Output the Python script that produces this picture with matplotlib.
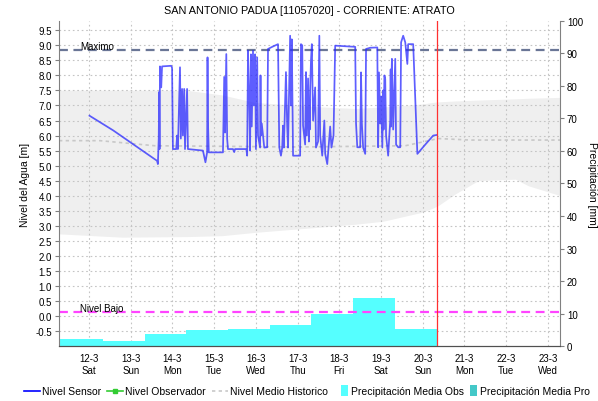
import matplotlib
matplotlib.use('Agg')
import matplotlib.pyplot as plt
from matplotlib.lines import Line2D
from matplotlib.patches import Patch, Rectangle
from matplotlib.legend_handler import HandlerPatch

plt.rcParams['font.family'] = ['Liberation Sans', 'DejaVu Sans']

# time axis in days of March (12.0 = 12-3 00:00)
day_ticks = [12, 13, 14, 15, 16, 17, 18, 19, 20, 21, 22, 23]
day_names = ['Sat', 'Sun', 'Mon', 'Tue', 'Wed', 'Thu', 'Fri', 'Sat', 'Sun', 'Mon', 'Tue', 'Wed']

# Nivel Sensor: (day, level m)
sensor_pts = [
    (12.01, 6.66), (12.58, 6.17), (13.63, 5.16), (13.65, 5.05), (13.67, 5.90),
    (13.68, 7.45), (13.69, 5.55), (13.70, 8.30), (13.73, 7.60), (13.75, 8.30),
    (13.97, 8.32), (13.99, 8.25), (14.01, 5.55), (14.09, 5.55), (14.11, 6.00),
    (14.13, 5.55), (14.18, 8.27), (14.20, 5.90), (14.23, 7.55), (14.25, 6.00),
    (14.28, 7.55), (14.30, 5.55), (14.35, 7.55), (14.37, 5.55), (14.73, 5.50),
    (14.79, 5.11), (14.83, 5.44), (14.84, 8.60), (14.85, 6.50), (14.87, 5.44),
    (15.21, 5.44), (15.24, 7.95), (15.26, 6.10), (15.29, 8.71), (15.31, 5.90),
    (15.33, 5.55), (15.45, 5.55), (15.48, 5.45), (15.50, 5.55), (15.77, 5.55),
    (15.79, 5.33), (15.81, 8.82), (15.84, 7.20), (15.86, 5.50), (15.88, 8.70),
    (15.90, 6.30), (15.93, 8.82), (15.95, 7.00), (15.98, 8.70), (16.00, 5.55),
    (16.03, 8.60), (16.05, 6.00), (16.10, 5.60), (16.11, 8.00), (16.12, 6.00),
    (16.14, 6.40), (16.20, 5.60), (16.27, 5.61), (16.29, 8.88), (16.39, 8.95),
    (16.53, 9.04), (16.56, 5.61), (16.60, 5.33), (16.63, 5.60), (16.65, 6.33),
    (16.67, 5.60), (16.72, 8.11), (16.75, 6.30), (16.77, 5.60), (16.82, 9.32),
    (16.84, 7.00), (16.86, 9.20), (16.89, 5.33), (17.06, 5.33), (17.08, 9.04),
    (17.11, 9.00), (17.13, 6.33), (17.18, 5.70), (17.20, 8.11), (17.22, 6.00),
    (17.25, 7.90), (17.27, 5.80), (17.28, 7.20), (17.29, 6.20), (17.30, 7.50),
    (17.32, 8.50), (17.34, 9.04), (17.37, 6.50), (17.42, 7.60), (17.44, 5.60),
    (17.49, 5.80), (17.52, 9.32), (17.54, 6.00), (17.59, 5.33), (17.64, 6.50),
    (17.66, 5.40), (17.71, 5.05), (17.74, 5.60), (17.78, 6.30), (17.81, 5.60),
    (17.86, 6.00), (17.90, 8.99), (18.14, 8.97), (18.38, 8.95), (18.40, 6.40),
    (18.43, 5.61), (18.50, 5.61), (18.52, 8.10), (18.54, 6.40), (18.57, 5.60),
    (18.62, 5.39), (18.64, 8.88), (18.74, 8.92), (18.91, 8.93), (18.93, 5.61),
    (18.95, 8.10), (18.98, 6.40), (19.00, 7.30), (19.03, 5.60), (19.05, 7.50),
    (19.06, 6.20), (19.08, 8.00), (19.10, 7.88), (19.12, 6.00), (19.17, 5.33),
    (19.22, 6.50), (19.23, 8.20), (19.24, 6.30), (19.25, 7.90), (19.26, 8.55),
    (19.29, 6.20), (19.34, 8.55), (19.36, 5.70), (19.41, 5.61), (19.46, 5.61),
    (19.48, 9.10), (19.53, 9.32), (19.58, 9.10), (19.63, 8.38), (19.65, 9.04),
    (19.77, 9.04), (19.87, 5.39), (20.06, 5.70), (20.25, 6.00), (20.34, 6.02),
]

# historical range band and mean [m]
band_t = [11.28, 12.79, 14.37, 15.19, 15.98, 17.59, 18.38, 19.05, 19.99, 20.23,
          20.37, 20.78, 21.33, 22.22, 22.53, 23.30]
band_hi = [7.51, 7.51, 7.50, 7.35, 7.10, 6.95, 6.90, 6.95, 7.05, 7.10,
           7.12, 7.15, 7.18, 7.22, 7.24, 7.27]
band_lo = [2.73, 2.62, 2.64, 2.67, 2.78, 2.96, 3.05, 3.15, 3.45, 3.58,
           3.67, 4.06, 4.50, 4.55, 4.33, 4.00]
mean_t = [11.28, 12.26, 13.58, 17.06, 19.58, 20.37, 21.14, 23.30]
mean_lvl = [5.83, 5.83, 5.66, 5.62, 5.66, 5.90, 5.85, 5.85]

# precipitation media obs [mm], steps between edges
precip_edges = [11.28, 12.33, 13.33, 14.33, 15.33, 16.33, 17.33, 18.33, 19.33, 20.33]
precip_mm = [2.1, 1.4, 3.7, 4.9, 5.2, 6.5, 10.0, 14.8, 5.2]

nivel_maximo = 8.85
nivel_bajo = 0.13
now_t = 20.34

sensor_t = [p[0] for p in sensor_pts]
sensor_lvl = [p[1] for p in sensor_pts]

fig = plt.figure(figsize=(5.98, 4.02), dpi=100)
ax = fig.add_axes([0.0987, 0.1368, 0.8378, 0.8085])
ax2 = ax.twinx()

ax.set_xlim(11.28, 23.29)
ax.set_ylim(-1.0, 9.81)
ax2.set_ylim(0, 100)

ax.set_axisbelow(True)
ax.grid(True, color='#c4c4c4', linestyle=(0, (1.5, 2.5)), linewidth=0.8)

ax.fill_between(band_t, band_lo, band_hi, color='#efefef', linewidth=0, zorder=0.3)

# bars belong to right axis scale
ps = precip_mm + [precip_mm[-1]]
ax.fill_between(precip_edges, 0, ps, step='post', color='#55ffff', linewidth=0,
                transform=ax2.transData, zorder=1)

ax.plot(mean_t, mean_lvl, color='#c8c8c8', linestyle=(0, (2, 2)), linewidth=1.2, zorder=1.5)
ax.axhline(nivel_maximo, color='#6a7696', linestyle=(0, (4, 2.5)), linewidth=1.6, zorder=2)
ax.axhline(nivel_bajo, color='#ff44ff', linestyle=(0, (4, 2.5)), linewidth=1.6, zorder=2)
ax.text(11.78, nivel_maximo - 0.03, 'Maximo', fontsize=7, va='bottom', zorder=3)
ax.text(11.78, nivel_bajo - 0.03, 'Nivel Bajo', fontsize=7, va='bottom', zorder=3)

ax.plot(sensor_t, sensor_lvl, color='#2828ff', linewidth=1.25, alpha=0.75, zorder=2.5)
ax.axvline(now_t, color='#ff3030', linewidth=0.9, zorder=3)

ax.set_xticks(day_ticks)
ax.set_xticklabels([f'{d}-3\n{n}' for d, n in zip(day_ticks, day_names)], fontsize=7, linespacing=1.25)
ax.tick_params(axis='x', length=0, pad=5)
lt = [x * 0.5 for x in range(-1, 20)]
ax.set_yticks(lt)
ax.set_yticklabels([f'{v:.1f}' for v in lt], fontsize=7)
ax.tick_params(axis='y', length=3, color='#808080', pad=2)
ax2.set_yticks(range(0, 101, 10))
ax2.set_yticklabels([str(v) for v in range(0, 101, 10)], fontsize=7)
ax2.tick_params(axis='y', length=3, color='#808080', pad=2)

for a in (ax, ax2):
    a.spines['top'].set_visible(False)
    a.spines['bottom'].set_color('#505050')
    a.spines['bottom'].set_linestyle((0, (1, 1)))
ax.spines['right'].set_visible(False)
ax2.spines['left'].set_visible(False)
ax.spines['left'].set_color('#808080')
ax2.spines['right'].set_color('#808080')

ax.set_ylabel('Nivel del Agua [m]', fontsize=7.5, labelpad=4)
ax2.set_ylabel('Precipitación [mm]', fontsize=7.5, rotation=270, labelpad=10)
ax.set_title('SAN ANTONIO PADUA [11057020] - CORRIENTE: ATRATO', fontsize=7.8, pad=6)


def square_handle(legend, orig_handle, xdescent, ydescent, width, height, fontsize):
    return Rectangle((-xdescent, -ydescent - 1.5), width, height + 3)


line_handles = [Line2D([], [], color='#0000ff', linewidth=1.2),
                Line2D([], [], color='#33cc33', linewidth=1.2, marker='s', markersize=2.5),
                Line2D([], [], color='#c8c8c8', linestyle=(0, (2, 2)), linewidth=1.2)]
line_labels = ['Nivel Sensor', 'Nivel Observador', 'Nivel Medio Historico']
box_handles = [Patch(facecolor='#55ffff'), Patch(facecolor='#44c8c8')]
box_labels = ['Precipitación Media Obs', 'Precipitación Media Pro']

fig.legend(line_handles, line_labels, loc='center left', bbox_to_anchor=(0.04, 0.024), ncol=3,
           frameon=False, fontsize=7.5, handlelength=1.55, handletextpad=0.2,
           columnspacing=0.55, borderpad=0, borderaxespad=0)
fig.legend(box_handles, box_labels, loc='center left', bbox_to_anchor=(0.571, 0.024), ncol=2,
           frameon=False, fontsize=7.5, handlelength=0.65, handletextpad=0.3,
           columnspacing=0.55, borderpad=0, borderaxespad=0,
           handler_map={Patch: HandlerPatch(patch_func=square_handle)})

fig.savefig('out.png', dpi=100)
